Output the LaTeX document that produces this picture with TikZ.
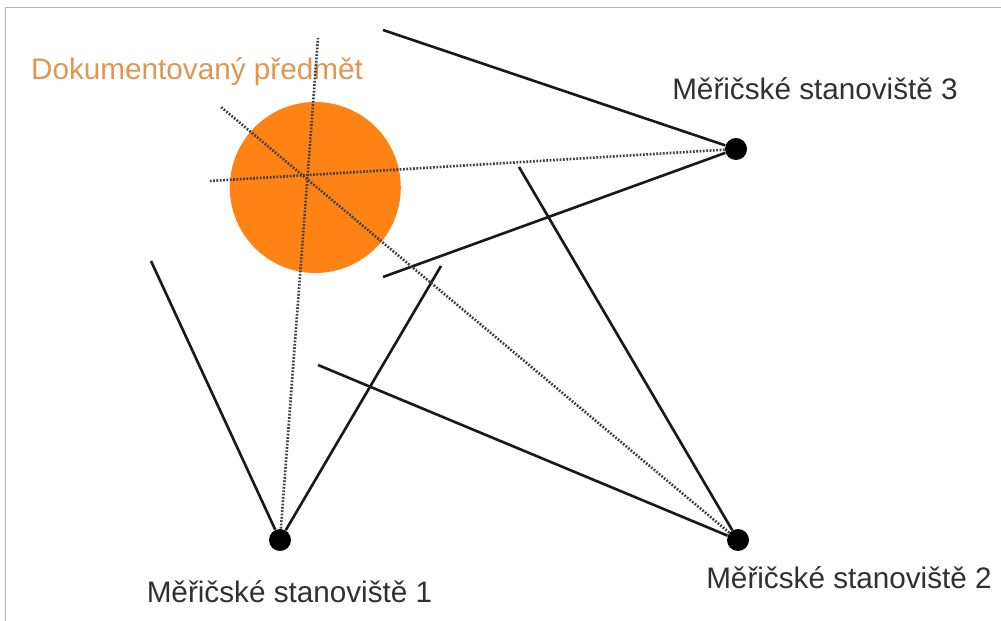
\documentclass[tikz,border=0pt]{standalone}
\usepackage{fontspec}
\setmainfont{Liberation Sans}
\usepackage{tikz}
\usetikzlibrary{positioning}
\definecolor{predmet}{HTML}{FF8214}
\definecolor{popis}{HTML}{E2954F}
\definecolor{ramec}{HTML}{B8B8B8}
\definecolor{text}{HTML}{303030}
\tikzset{
  stanoviste/.style={circle, fill=black, inner sep=0pt, minimum size=0.44cm},
  popisek/.style={text=text, font=\fontsize{16.9}{18}\selectfont, inner sep=0pt},
  zamer/.style={line width=1.5pt, black!90},
  osa/.style={line width=1.5pt, black!75, dash pattern=on 1pt off 0.9pt},
}
\begin{document}
\begin{tikzpicture}[x=0.02cm,y=-0.02cm]
\useasboundingbox (0,0) rectangle (1001,621);
\draw[ramec, line width=0.9pt] (5.5,621) -- (5.5,7.5) -- (1001,7.5);
\node[circle, fill=predmet, inner sep=0pt, minimum size=3.42cm] (p) at (315.3,187.5) {};
\node[stanoviste] (s1) at (280,540) {};
\node[stanoviste] (s2) at (738,540) {};
\node[stanoviste] (s3) at (736,149) {};
\node[popisek, text=popis] (t) at (197,72) {Dokumentovaný předmět};
\node[popisek] (t1) at (289.5,592) {Měřičské stanoviště 1};
\node[popisek] (t2) at (849,578) {Měřičské stanoviště 2};
\node[popisek] (t3) at (815,89) {Měřičské stanoviště 3};
\coordinate (a1) at (151,261);
\coordinate (b1) at (441,266);
\coordinate (a2) at (318,365);
\coordinate (b2) at (519,167);
\coordinate (a3) at (383,30);
\coordinate (b3) at (383,277);
\coordinate (c1) at (318,38);
\coordinate (c2) at (221,107);
\coordinate (c3) at (209,181);
\draw[zamer] (s1) -- (a1);
\draw[zamer] (s1) -- (b1);
\draw[zamer] (s2) -- (a2);
\draw[zamer] (s2) -- (b2);
\draw[zamer] (s3) -- (a3);
\draw[zamer] (s3) -- (b3);
\draw[osa] (s1) -- (c1);
\draw[osa] (s2) -- (c2);
\draw[osa] (s3) -- (c3);
\end{tikzpicture}
\end{document}
